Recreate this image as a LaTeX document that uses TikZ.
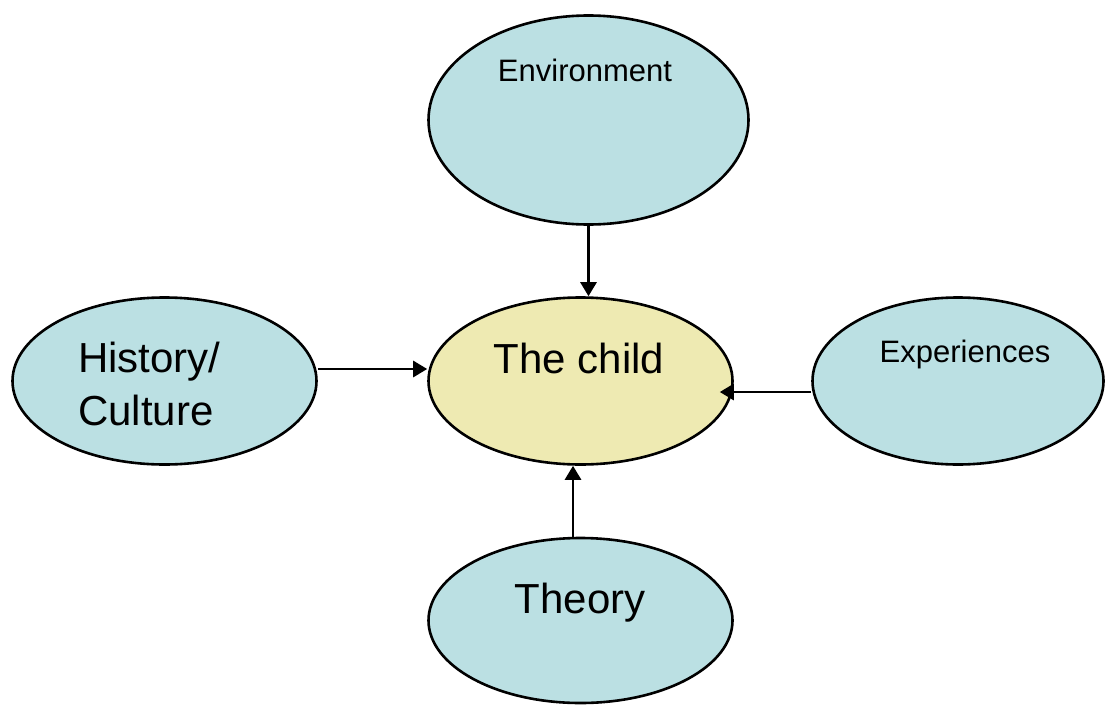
\documentclass[tikz,border=0pt]{standalone}
\usepackage{fontspec}
\setmainfont{Liberation Sans}
\usetikzlibrary{shapes.geometric,arrows.meta,calc}
\definecolor{bubble}{HTML}{BBE0E3}
\definecolor{core}{HTML}{EEEAB2}
\tikzset{
  oval/.style={ellipse, draw=black, line width=2.6pt, fill=bubble, inner sep=0pt},
  arr/.style={line width=2.8pt, -{Triangle[length=14pt,width=16pt]}},
  small/.style={font=\fontsize{31}{37}\selectfont, anchor=base, inner sep=0pt},
  big/.style={font=\fontsize{42}{53}\selectfont, anchor=base, inner sep=0pt},
}
\begin{document}
\begin{tikzpicture}[x=1pt,y=-1pt]
\useasboundingbox (0,0) rectangle (1105,704);
\node[oval, minimum width=320pt, minimum height=209pt] (env) at (588.5,120) {};
\node[oval, fill=core, minimum width=304pt, minimum height=167pt] (child) at (580.5,381) {};
\node[oval, minimum width=304pt, minimum height=167pt] (hist) at (164.5,381) {};
\node[oval, minimum width=291pt, minimum height=167pt] (exp) at (958,381) {};
\node[oval, minimum width=304pt, minimum height=165pt] (theory) at (580.5,620.5) {};

\node[small] (envt) at (585,81) {Environment};
\node[big] (childt) at (579,373) {The child};
\node[small] (expt) at (965,362) {Experiences};
\node[big] (theoryt) at (580,613) {Theory};
\node[big, anchor=base west, align=left] (histt) at (78,425) {History/\\Culture};

\draw[arr] (env.south) -- (env.south |- child.north);
\draw[arr] ([yshift=12pt]hist.east) -- ([yshift=12pt]child.west);
\draw[arr] ([yshift=-11pt]exp.west) -- ([yshift=-11pt,xshift=-14pt]child.east);
\draw[arr] ([xshift=-7.5pt]theory.north) -- ([xshift=-7.5pt]child.south);
\end{tikzpicture}
\end{document}
